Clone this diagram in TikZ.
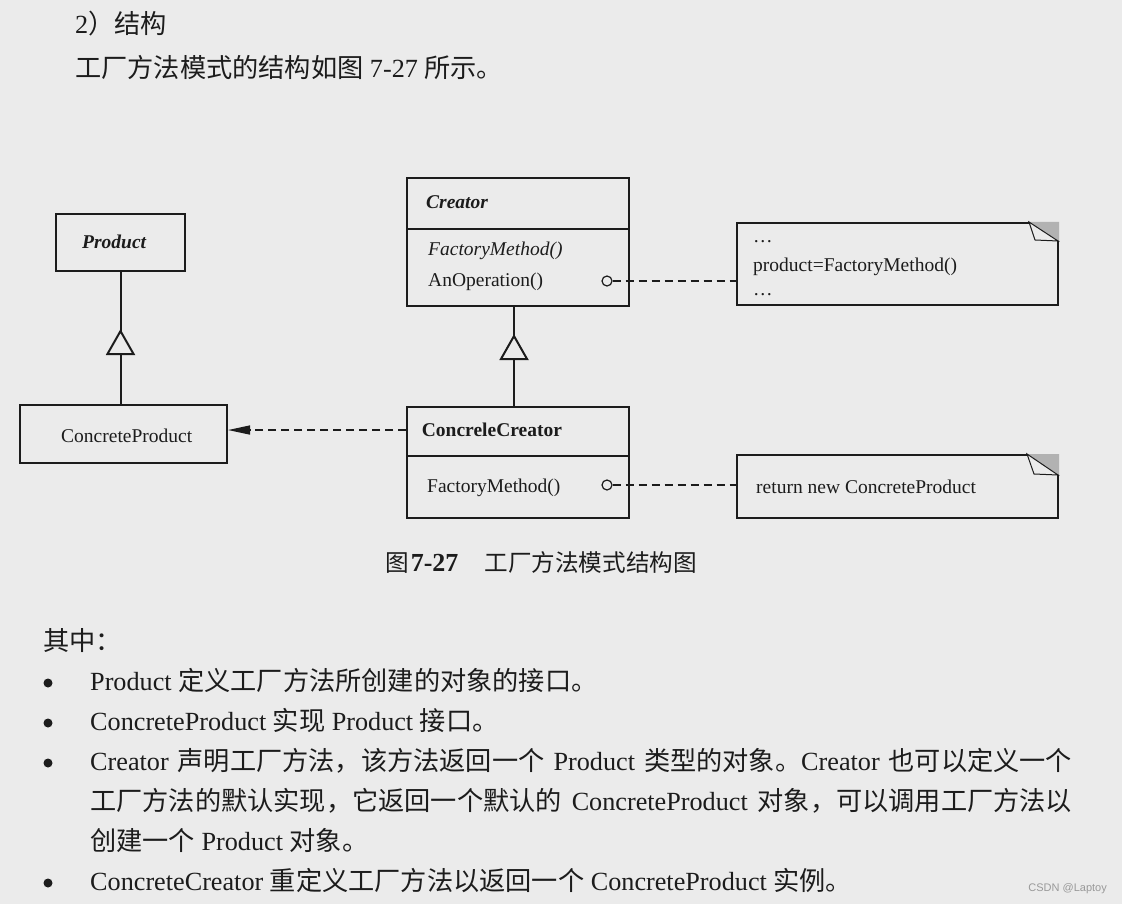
\documentclass[tikz,border=0pt]{standalone}
\usepackage{fontspec}
\setmainfont{Liberation Serif}
\newfontfamily\cjk{Noto Sans CJK SC}
\newfontfamily\wmfont{Liberation Sans}
\newcommand\zh[1]{{\cjk #1}}
\usetikzlibrary{arrows.meta,decorations.markings}
\definecolor{paper}{RGB}{235,235,235}
\definecolor{ink}{RGB}{28,28,28}
\definecolor{fold}{RGB}{178,178,178}

\begin{document}
\begin{tikzpicture}[
    x=1pt, y=-1pt,
    umlbox/.style={draw=ink, line width=2pt, inner sep=0pt},
    uml/.style={font=\fontsize{19.5}{23}\selectfont, text=ink, anchor=base west, inner sep=0pt},
    body/.style={font=\fontsize{26.2}{30}\selectfont, text=ink, anchor=base west, inner sep=0pt},
    dep/.style={draw=ink, line width=1.4pt, dash pattern=on 8pt off 5pt},
    lolly/.style={circle, draw=ink, fill=paper, line width=1.2pt, minimum size=10pt, inner sep=0pt},
    gen/.style={draw=ink, line width=2pt, postaction={decorate},
        decoration={markings, mark=at position #1 with {\arrow{Triangle[fill=paper, length=26pt, width=29pt]}}}},
    bul/.style={circle, fill=ink, minimum size=9pt, inner sep=0pt},
]
% page
\fill[paper] (0,0) rectangle (1122,904);
\useasboundingbox (0,0) rectangle (1122,904);

% heading lines
\node[body] (head) at (75,34) {2\zh{）结构}};
\node[body] (intro) at (75,78) {\zh{工厂方法模式的结构如图} 7-27 \zh{所示。}};

% --- class boxes ---
\node[umlbox, minimum width=129pt, minimum height=57pt] (prod) at (120.5,242.5) {};
\node[uml, font=\fontsize{19.5}{23}\selectfont\bfseries\itshape] (prodname) at (82,249) {Product};

\node[umlbox, minimum width=207pt, minimum height=58pt] (cprod) at (123.5,434) {};
\node[uml] (cprodname) at (61,442.3) {ConcreteProduct};

\node[umlbox, minimum width=222pt, minimum height=128pt] (cr) at (518,242) {};
\coordinate (crsep) at (518,229);
\draw[ink, line width=2pt] (cr.west |- crsep) -- (cr.east |- crsep);
\node[uml, font=\fontsize{19.5}{23}\selectfont\bfseries\itshape] (crname) at (426,209) {Creator};
\node[uml, font=\fontsize{19.5}{23}\selectfont\itshape] (crfm) at (428,255) {FactoryMethod()};
\node[uml] (crop) at (428,287) {AnOperation()};

\node[umlbox, minimum width=222pt, minimum height=111pt] (cc) at (518,462.5) {};
\coordinate (ccsep) at (518,456);
\draw[ink, line width=2pt] (cc.west |- ccsep) -- (cc.east |- ccsep);
\node[uml, font=\fontsize{19.5}{23}\selectfont\bfseries] (ccname) at (421.7,436.7) {ConcreleCreator};
\node[uml] (ccfm) at (427,492.3) {FactoryMethod()};

% --- notes ---
\node[umlbox, minimum width=321pt, minimum height=82pt] (n1) at (897.5,264) {};
\node[uml] (n1a) at (753,243) {…};
\node[uml] (n1b) at (753,271) {product=FactoryMethod()};
\node[uml] (n1c) at (753,295) {…};
\fill[fold] ([shift={(-30,0)}]n1.north east) -- (n1.north east) -- ([shift={(0,19)}]n1.north east) -- cycle;
\draw[ink, line width=1pt, fill=paper] ([shift={(-30,0)}]n1.north east) -- ([shift={(-24,18)}]n1.north east) -- ([shift={(-1,19)}]n1.north east) -- cycle;

\node[umlbox, minimum width=321pt, minimum height=63pt] (n2) at (897.5,486.5) {};
\node[uml] (n2a) at (756,493.3) {return new ConcreteProduct};
\fill[fold] ([shift={(-32,0)}]n2.north east) -- (n2.north east) -- ([shift={(0,21)}]n2.north east) -- cycle;
\draw[ink, line width=1pt, fill=paper] ([shift={(-32,0)}]n2.north east) -- ([shift={(-25,20)}]n2.north east) -- ([shift={(-1,21)}]n2.north east) -- cycle;

% --- connectors ---
\draw[gen=75pt] (prod.south |- cprod.north) -- (prod.south);
\draw[gen=72pt] ([xshift=-4pt]cr.south |- cc.north) -- ([xshift=-4pt]cr.south);
\draw[dep, -{Triangle[length=22pt, width=9pt]}] (cc.west |- ccname) -- (cprod.east |- ccname);

\node[lolly] (opc) at (607,281) {};
\draw[dep] (opc) -- (opc -| n1.west);
\node[lolly] (fmc) at (607,485) {};
\draw[dep] (fmc) -- (fmc -| n2.west);

% caption
\node[body, font=\fontsize{23.6}{28}\selectfont] (cap) at (385,571)
    {\zh{图}\hspace{2pt}{\fontsize{26}{28}\selectfont\bfseries 7-27}\hspace{26pt}\zh{工厂方法模式结构图}};

% --- explanation list ---
\node[body] (among) at (43,650) {\zh{其中：}};
\node[bul] (b1) at (48,683) {};
\node[body] (t1) at (90,690) {Product \zh{定义工厂方法所创建的对象的接口。}};
\node[bul] (b2) at (48,723) {};
\node[body] (t2) at (90,730) {ConcreteProduct \zh{实现} Product \zh{接口。}};
\node[bul] (b3) at (48,763) {};
\node[body] (t3) at (90,770) {\makebox[982pt][s]{Creator \zh{声明工厂方法，该方法返回一个} Product \zh{类型的对象。}Creator \zh{也可以定义一个}}};
\node[body] (t4) at (90,810) {\makebox[982pt][s]{\zh{工厂方法的默认实现，它返回一个默认的} ConcreteProduct \zh{对象，可以调用工厂方法以}}};
\node[body] (t5) at (90,850) {\zh{创建一个} Product \zh{对象。}};
\node[bul] (b6) at (48,883) {};
\node[body] (t6) at (90,890) {ConcreteCreator \zh{重定义工厂方法以返回一个} ConcreteProduct \zh{实例。}};

% watermark
\node[anchor=base east, inner sep=0pt, text=black!40, font=\wmfont\fontsize{11}{13}\selectfont] (wm) at (1107,891) {CSDN @Laptoy};
\end{tikzpicture}
\end{document}
